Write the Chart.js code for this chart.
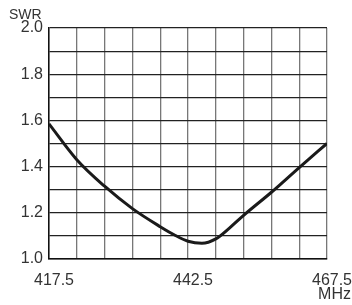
<!DOCTYPE html>
<html>
<head>
<meta charset="utf-8">
<script src="https://cdn.jsdelivr.net/npm/chart.js@4"></script>
<style>
  html, body { margin: 0; padding: 0; background: #fff; }
  #wrap { width: 352px; height: 305px; }
</style>
</head>
<body>
<div id="wrap"><canvas id="swrChart"></canvas></div>
<script>
const freqs = [417.5, 422.5, 427.5, 432.5, 437.5, 440, 442.5, 445, 447.5, 450, 452.5, 457.5, 462.5, 467.5];
const swr = [1.585, 1.43, 1.315, 1.218, 1.14, 1.105, 1.077, 1.068, 1.087, 1.135, 1.189, 1.289, 1.396, 1.5];
const xTickLabels = [417.5, 442.5, 467.5];
const yTickLabels = ['1.0', '1.2', '1.4', '1.6', '1.8', '2.0'];

const textColor = '#333';
const font = {family: 'Liberation Sans, Arial, sans-serif', size: 16};

// axis titles sit outside the plot like on the printed sheet
const axisTitles = {
  id: 'axisTitles',
  afterDraw(chart) {
    const ctx = chart.ctx;
    ctx.save();
    ctx.fillStyle = textColor;
    ctx.font = '14px Liberation Sans, Arial, sans-serif';
    ctx.textAlign = 'left';
    ctx.textBaseline = 'middle';
    ctx.fillText('SWR', 9, 15);
    ctx.font = '16px Liberation Sans, Arial, sans-serif';
    ctx.textAlign = 'right';
    ctx.fillText('MHz', 351, 295);
    ctx.restore();
  },
};

const ctx = document.getElementById('swrChart').getContext('2d');
new Chart(ctx, {
  type: 'line',
  data: {
    datasets: [
      {
        data: freqs.map((f, i) => ({x: f, y: swr[i]})),
        borderColor: '#1a1a1a',
        borderWidth: 3,
        pointRadius: 0,
        cubicInterpolationMode: 'monotone',
        fill: false,
      },
    ],
  },
  options: {
    responsive: true,
    maintainAspectRatio: false,
    animation: false,
    layout: {padding: {top: 28, right: 25, left: 0, bottom: 0}},
    plugins: {
      legend: {display: false},
      tooltip: {enabled: false},
    },
    scales: {
      x: {
        type: 'linear',
        min: 417.5,
        max: 467.5,
        afterFit: (scale) => {
          scale.height = 46;
          scale.paddingLeft = 0;
          scale.paddingRight = 0;
        },
        border: {color: '#111', width: 1.5},
        grid: {color: '#777', lineWidth: 1.3, drawTicks: false},
        ticks: {
          stepSize: 5,
          autoSkip: false,
          maxRotation: 0,
          padding: 12,
          labelOffset: 5,
          color: textColor,
          font: font,
          callback: (v) => (xTickLabels.includes(v) ? v.toFixed(1) : ''),
        },
      },
      y: {
        min: 1.0,
        max: 2.0,
        afterFit: (scale) => {
          scale.width = 49;
          scale.paddingTop = 0;
          scale.paddingBottom = 0;
        },
        border: {color: '#111', width: 1.5},
        grid: {color: '#222', lineWidth: 1.2, drawTicks: false},
        ticks: {
          stepSize: 0.1,
          autoSkip: false,
          padding: 6,
          color: textColor,
          font: font,
          callback: (v) => {
            const s = (Math.round(v * 10) / 10).toFixed(1);
            return yTickLabels.includes(s) ? s : '';
          },
        },
      },
    },
  },
  plugins: [axisTitles],
});
</script>
</body>
</html>
